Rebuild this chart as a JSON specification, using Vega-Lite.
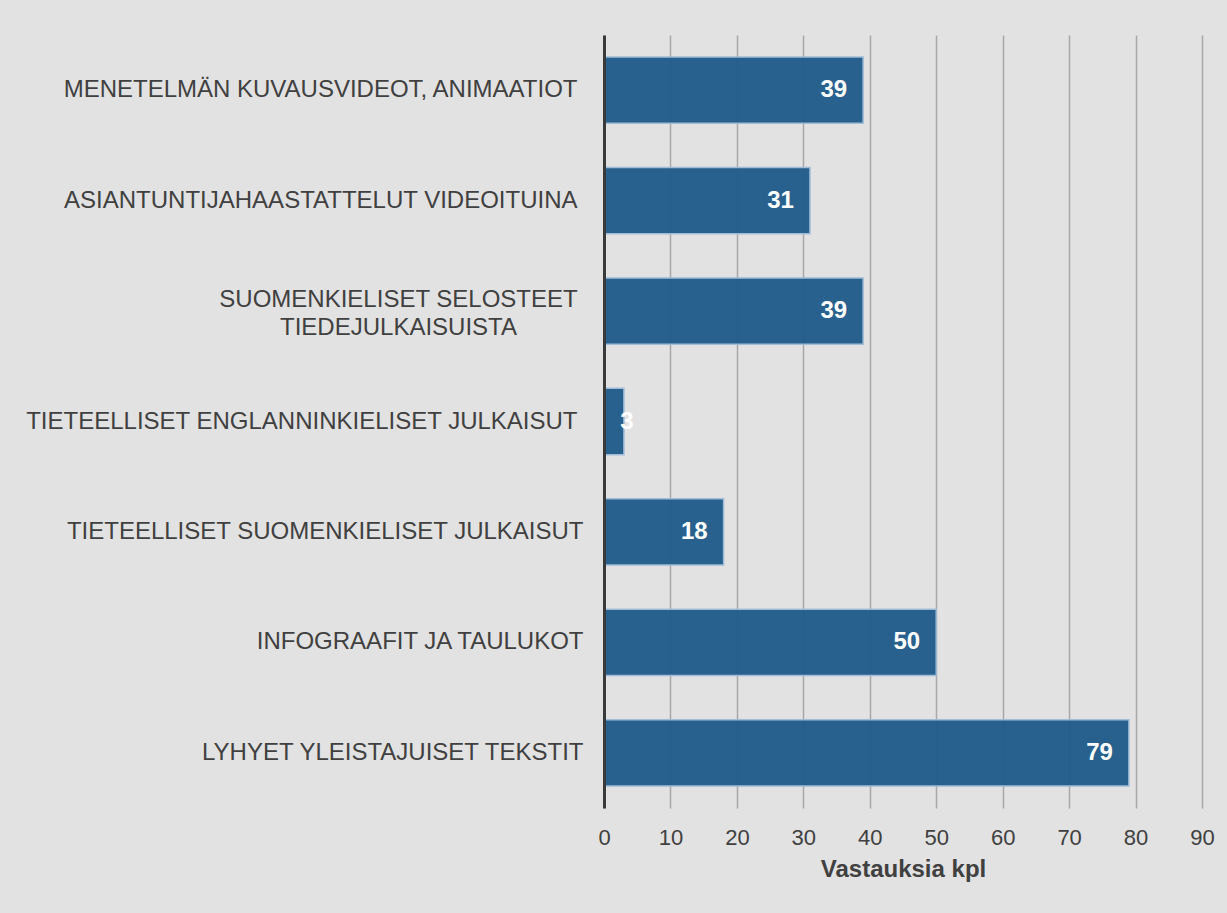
{
  "$schema": "https://vega.github.io/schema/vega-lite/v6.json",
  "autosize": {"type": "none"},
  "width": 598,
  "height": 773,
  "padding": {"left": 604, "top": 35, "right": 25, "bottom": 105},
  "background": "#e2e2e2",
  "config": {
    "view": {"stroke": null},
    "font": "Liberation Sans",
    "axis": {"labelFont": "Liberation Sans", "titleFont": "Liberation Sans"}
  },
  "data": {
    "values": [
      {"kategoria": "MENETELMÄN KUVAUSVIDEOT, ANIMAATIOT", "vastauksia": 39},
      {"kategoria": "ASIANTUNTIJAHAASTATTELUT VIDEOITUINA", "vastauksia": 31},
      {"kategoria": "SUOMENKIELISET SELOSTEET|TIEDEJULKAISUISTA", "vastauksia": 39},
      {"kategoria": "TIETEELLISET ENGLANNINKIELISET JULKAISUT", "vastauksia": 3},
      {"kategoria": "TIETEELLISET SUOMENKIELISET JULKAISUT", "vastauksia": 18},
      {"kategoria": "INFOGRAAFIT JA TAULUKOT", "vastauksia": 50},
      {"kategoria": "LYHYET YLEISTAJUISET TEKSTIT", "vastauksia": 79}
    ]
  },
  "encoding": {
    "y": {
      "field": "kategoria",
      "type": "nominal",
      "sort": null,
      "scale": {"paddingInner": 0.4, "paddingOuter": 0.2},
      "axis": {
        "title": null,
        "labelExpr": "split(datum.label, '|')",
        "labelLineHeight": 28,
        "labelFontSize": 24,
        "labelColor": "#404040",
        "labelAlign": {"condition": {"test": "indexof(datum.value, '|') >= 0", "value": "center"}, "value": "right"},
        "labelPadding": {"condition": [
          {"test": "indexof(datum.value, '|') >= 0", "value": 206},
          {"test": "indexof(['TIETEELLISET SUOMENKIELISET JULKAISUT','INFOGRAAFIT JA TAULUKOT','LYHYET YLEISTAJUISET TEKSTIT'], datum.value) >= 0", "value": 21}
        ], "value": 27},
        "labelOffset": {"condition": {"test": "indexof(datum.value, '|') >= 0", "value": -11}, "value": 0},
        "labelLimit": 700,
        "ticks": false,
        "domain": true,
        "domainColor": "#3a3a3a",
        "domainWidth": 3,
        "grid": false,
        "zindex": 2
      }
    },
    "x": {
      "field": "vastauksia",
      "type": "quantitative",
      "scale": {"domain": [0, 90], "nice": false},
      "axis": {
        "title": "Vastauksia kpl",
        "titleFontSize": 24,
        "titleFontWeight": "bold",
        "titleColor": "#404040",
        "titlePadding": 9,
        "values": [0, 10, 20, 30, 40, 50, 60, 70, 80, 90],
        "labelFontSize": 22,
        "labelColor": "#404040",
        "labelPadding": 19,
        "labelFlush": false,
        "ticks": false,
        "domain": false,
        "grid": true,
        "gridColor": "#a8a8a8",
        "gridWidth": 1.5,
        "zindex": 0
      }
    }
  },
  "layer": [
    {
      "mark": {"type": "bar", "color": "#215c8b", "opacity": 0.96, "stroke": "#9ebbd8", "strokeWidth": 1.5}
    },
    {
      "transform": [{"filter": "datum.vastauksia >= 10"}],
      "mark": {"type": "text", "align": "right", "baseline": "middle", "dx": -16, "color": "white", "fontSize": 24, "fontWeight": "bold"},
      "encoding": {"text": {"field": "vastauksia", "type": "quantitative"}}
    },
    {
      "transform": [{"filter": "datum.vastauksia < 10"}],
      "mark": {"type": "text", "align": "center", "baseline": "middle", "dx": 3, "color": "white", "fontSize": 24, "fontWeight": "bold"},
      "encoding": {"text": {"field": "vastauksia", "type": "quantitative"}}
    }
  ]
}
